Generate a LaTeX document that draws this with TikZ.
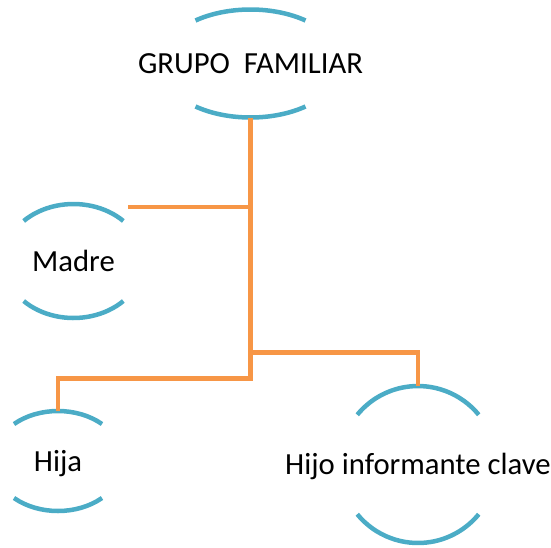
\documentclass[tikz,border=0pt]{standalone}
\usepackage{fontspec}
\setmainfont{Carlito}
\usetikzlibrary{shapes.geometric}
\definecolor{arcblue}{RGB}{75,172,198}
\definecolor{lineorange}{RGB}{247,150,70}
\begin{document}
\begin{tikzpicture}[x=1pt,y=1pt,
  holder/.style={ellipse,draw=none,inner sep=0pt,outer sep=0pt},
  txt/.style={font=\fontsize{30.7}{36}\selectfont,text height=20pt,text depth=0pt,inner sep=0pt},
  arcst/.style={draw=arcblue,line width=4.5pt},
  conn/.style={draw=lineorange,line width=4.5pt,line join=miter}]
\useasboundingbox (0,0) rectangle (551,-547);
% holders (ellipses whose top and bottom arcs are drawn)
\node[holder,minimum width=182pt,minimum height=108pt] (top) at (250.5,-63.5) {};
\node[holder,minimum width=140pt,minimum height=114pt] (madre) at (73.5,-261) {};
\node[holder,minimum width=130.8pt,minimum height=100pt] (hija) at (58,-461) {};
\node[holder,minimum width=157pt,minimum height=157pt] (hijo) at (418,-464.5) {};
% texts
\node[txt] (topt) at (top.center) {GRUPO\ \ FAMILIAR};
\node[txt] (madret) at (madre.center) {Madre};
\node[txt] (hijat) at (hija.center) {Hija};
\node[txt] (hijot) at (hijo.center) {Hijo informante clave};
% arcs
\draw[arcst] (top.center) ++(52.8:91pt and 54pt) arc[start angle=52.8,end angle=127.2,x radius=91pt,y radius=54pt];
\draw[arcst] (top.center) ++(232.8:91pt and 54pt) arc[start angle=232.8,end angle=307.2,x radius=91pt,y radius=54pt];
\draw[arcst] (madre.center) ++(44.6:70pt and 57pt) arc[start angle=44.6,end angle=135.4,x radius=70pt,y radius=57pt];
\draw[arcst] (madre.center) ++(224.6:70pt and 57pt) arc[start angle=224.6,end angle=315.4,x radius=70pt,y radius=57pt];
\draw[arcst] (hija.center) ++(47.7:65.4pt and 50pt) arc[start angle=47.7,end angle=132.3,x radius=65.4pt,y radius=50pt];
\draw[arcst] (hija.center) ++(227.7:65.4pt and 50pt) arc[start angle=227.7,end angle=312.3,x radius=65.4pt,y radius=50pt];
\draw[arcst] (hijo.center) ++(39.3:78.5pt and 78.5pt) arc[start angle=39.3,end angle=140.7,x radius=78.5pt,y radius=78.5pt];
\draw[arcst] (hijo.center) ++(219.3:78.5pt and 78.5pt) arc[start angle=219.3,end angle=320.7,x radius=78.5pt,y radius=78.5pt];
% connectors
\coordinate (madrelink) at (128,-207);
\coordinate (j1) at (250.5,-378.5);
\coordinate (j2) at (250.5,-352.5);
\draw[conn] (top.south) -- (j1) -| (hija.north);
\draw[conn] (j2) -| (hijo.north);
\draw[conn] (top.south |- madrelink) -- (madrelink);
\end{tikzpicture}
\end{document}
